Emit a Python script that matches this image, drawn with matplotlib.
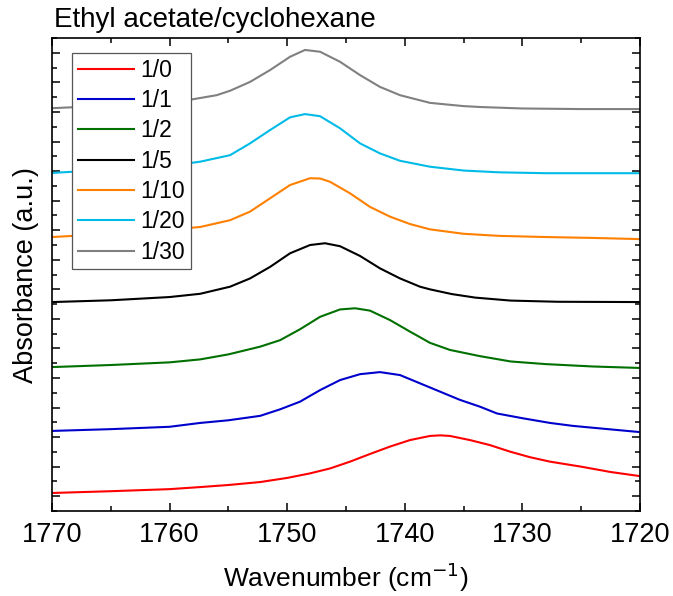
# FTIR carbonyl band, ethyl acetate / cyclohexane dilution series
import matplotlib
matplotlib.use('Agg')
import matplotlib.pyplot as plt
from matplotlib.ticker import MultipleLocator

plt.rcParams['font.family'] = ['Liberation Sans', 'DejaVu Sans']

# Ratios and colours
labels = ['1/0', '1/1', '1/2', '1/5', '1/10', '1/20', '1/30']
colours = ['#ff0000', '#0000cc', '#007000', '#000000',
           '#ff8000', '#00bbe8', '#808080']

# Spectra (wavenumber, stacked absorbance a.u.)
wn_red = [1770, 1765, 1760, 1757.4, 1755, 1752.3, 1750, 1748.1, 1746.36,
          1744.66, 1742.96, 1741.26, 1739.56, 1737.86, 1737, 1736.16,
          1734.46, 1732.76, 1731.06, 1729.35, 1727.65, 1725, 1722.5, 1720]
ab_red = [0.61, 0.67, 0.74, 0.81, 0.88, 0.98, 1.12, 1.27, 1.44,
          1.67, 1.93, 2.18, 2.40, 2.54, 2.56, 2.54,
          2.40, 2.23, 2.01, 1.82, 1.67, 1.50, 1.32, 1.18]

wn_blue = [1770, 1765, 1760, 1757.4, 1755, 1752.3, 1750.61, 1748.91,
           1747.21, 1745.51, 1743.81, 1742.11, 1740.41, 1738.71, 1737.01,
           1735.31, 1733.61, 1732.16, 1730, 1727.65, 1725.7, 1723, 1720]
ab_blue = [2.71, 2.77, 2.85, 2.98, 3.07, 3.22, 3.44, 3.70,
           4.09, 4.43, 4.63, 4.70, 4.60, 4.32, 4.04,
           3.76, 3.53, 3.30, 3.14, 2.98, 2.88, 2.78, 2.67]

wn_green = [1770, 1765, 1760, 1757.4, 1755, 1752.31, 1750.61, 1748.91,
            1747.21, 1745.51, 1744.23, 1742.96, 1741.26, 1739.56, 1737.86,
            1736.16, 1733.61, 1731, 1728, 1724, 1720]
ab_green = [4.87, 4.94, 5.03, 5.13, 5.30, 5.56, 5.78, 6.15,
            6.57, 6.82, 6.86, 6.78, 6.46, 6.07, 5.69,
            5.45, 5.24, 5.06, 4.97, 4.89, 4.84]

wn_black = [1770, 1765, 1760, 1757.4, 1754.86, 1753.16, 1751.46, 1749.76,
            1748.06, 1746.79, 1745.51, 1743.81, 1742.11, 1740.41, 1738.71,
            1737.86, 1736, 1734, 1731, 1727, 1720]
ab_black = [7.07, 7.13, 7.24, 7.35, 7.59, 7.87, 8.26, 8.72,
            9.00, 9.06, 8.96, 8.63, 8.21, 7.87, 7.59,
            7.50, 7.34, 7.22, 7.12, 7.08, 7.07]

wn_orange = [1770, 1765, 1760, 1757.4, 1754.86, 1753.16, 1751.46, 1749.76,
             1748.06, 1747.2, 1746.36, 1744.66, 1742.96, 1741.26, 1739.56,
             1737.86, 1735, 1732, 1728, 1724, 1720]
ab_orange = [9.27, 9.38, 9.52, 9.61, 9.84, 10.13, 10.58, 11.03,
             11.26, 11.25, 11.14, 10.75, 10.29, 9.96, 9.71,
             9.53, 9.38, 9.31, 9.27, 9.24, 9.20]

wn_cyan = [1770, 1765, 1760, 1757.4, 1754.86, 1753.16, 1751.46, 1749.76,
           1748.49, 1747.21, 1745.51, 1743.81, 1742.11, 1740.41, 1737.86,
           1735, 1732, 1728, 1720]
ab_cyan = [11.44, 11.55, 11.68, 11.82, 12.04, 12.44, 12.89, 13.32,
           13.43, 13.36, 12.95, 12.44, 12.10, 11.85, 11.65,
           11.52, 11.46, 11.43, 11.43]

wn_gray = [1770, 1765, 1760, 1758.5, 1756, 1754.86, 1753.16, 1751.46,
           1749.76, 1748.49, 1747.21, 1745.51, 1743.81, 1742.11, 1740.41,
           1737.86, 1735, 1733.6, 1730, 1725, 1720]
ab_gray = [13.63, 13.72, 13.85, 13.90, 14.07, 14.22, 14.52, 14.92,
           15.37, 15.60, 15.54, 15.20, 14.75, 14.35, 14.07,
           13.81, 13.70, 13.67, 13.62, 13.60, 13.60]

spectra = [(wn_red, ab_red), (wn_blue, ab_blue), (wn_green, ab_green),
           (wn_black, ab_black), (wn_orange, ab_orange),
           (wn_cyan, ab_cyan), (wn_gray, ab_gray)]

fig = plt.figure(figsize=(6.73, 5.96), dpi=100)
ax = fig.add_axes([0.0773, 0.1426, 0.8737, 0.7934])

for (wn, ab), lab, col in zip(spectra, labels, colours):
    ax.plot(wn, ab, color=col, lw=1.5, label=lab, solid_joinstyle='round')

ax.set_xlim(1770, 1720)
ax.set_ylim(0, 16)

# Ticks inward on all sides, no y labels
ax.xaxis.set_major_locator(MultipleLocator(10))
ax.xaxis.set_minor_locator(MultipleLocator(5))
ax.yaxis.set_major_locator(MultipleLocator(1, offset=0.5))
ax.yaxis.set_minor_locator(MultipleLocator(0.5))
ax.tick_params(which='both', direction='in', top=True, right=True,
               width=1.1)
ax.tick_params(which='major', length=6, labelsize=19.5, pad=8)
ax.tick_params(which='minor', length=3.5)
ax.tick_params(axis='y', labelleft=False)
for s in ax.spines.values():
    s.set_linewidth(1.2)

ax.set_xlabel('Wavenumber (cm$^{-1}$)', fontsize=19, labelpad=9)
ax.set_ylabel('Absorbance (a.u.)', fontsize=19.5, labelpad=6)
ax.text(0.003, 1.01, 'Ethyl acetate/cyclohexane', transform=ax.transAxes,
        fontsize=20, ha='left', va='bottom')

leg = ax.legend(loc='upper left', bbox_to_anchor=(0.034, 0.968),
                borderaxespad=0, fontsize=16.5, handlelength=2.45,
                labelspacing=0.32, fancybox=False, framealpha=1,
                edgecolor='#555555', borderpad=0.24, handletextpad=0.3)
leg.get_frame().set_linewidth(0.9)

fig.savefig('out.png', dpi=100)
